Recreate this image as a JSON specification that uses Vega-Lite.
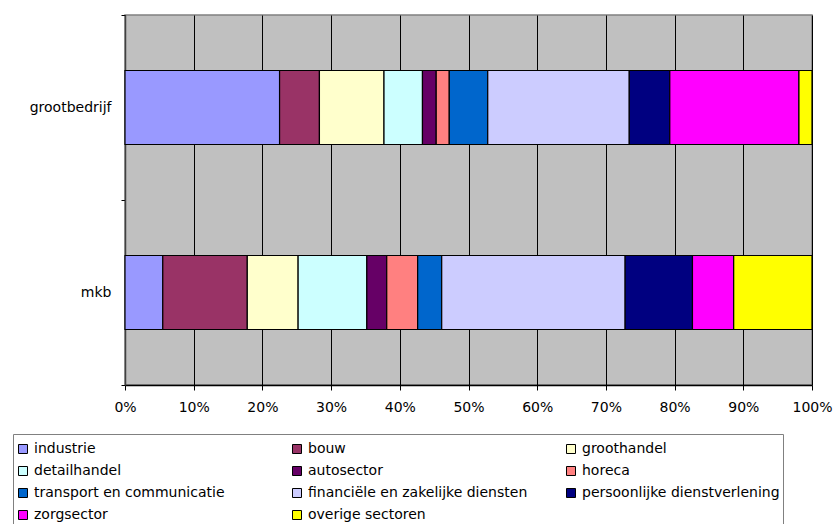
{
  "$schema": "https://vega.github.io/schema/vega-lite/v6.json",
  "width": 687,
  "height": 370,
  "padding": {"left": 12, "top": 8, "right": 0, "bottom": 0},
  "background": "white",
  "config": {
    "font": "DejaVu Sans",
    "view": {"fill": "#C0C0C0", "stroke": "#808080", "strokeWidth": 1.5}
  },
  "data": {
    "values": [
      {"bedrijf": "grootbedrijf", "sector": "industrie", "volgorde": 1, "aandeel": 22.5},
      {"bedrijf": "grootbedrijf", "sector": "bouw", "volgorde": 2, "aandeel": 5.8},
      {"bedrijf": "grootbedrijf", "sector": "groothandel", "volgorde": 3, "aandeel": 9.4},
      {"bedrijf": "grootbedrijf", "sector": "detailhandel", "volgorde": 4, "aandeel": 5.6},
      {"bedrijf": "grootbedrijf", "sector": "autosector", "volgorde": 5, "aandeel": 2.0},
      {"bedrijf": "grootbedrijf", "sector": "horeca", "volgorde": 6, "aandeel": 1.9},
      {"bedrijf": "grootbedrijf", "sector": "transport en communicatie", "volgorde": 7, "aandeel": 5.6},
      {"bedrijf": "grootbedrijf", "sector": "financiële en zakelijke diensten", "volgorde": 8, "aandeel": 20.6},
      {"bedrijf": "grootbedrijf", "sector": "persoonlijke dienstverlening", "volgorde": 9, "aandeel": 5.9},
      {"bedrijf": "grootbedrijf", "sector": "zorgsector", "volgorde": 10, "aandeel": 18.8},
      {"bedrijf": "grootbedrijf", "sector": "overige sectoren", "volgorde": 11, "aandeel": 1.9},
      {"bedrijf": "mkb", "sector": "industrie", "volgorde": 1, "aandeel": 5.5},
      {"bedrijf": "mkb", "sector": "bouw", "volgorde": 2, "aandeel": 12.3},
      {"bedrijf": "mkb", "sector": "groothandel", "volgorde": 3, "aandeel": 7.4},
      {"bedrijf": "mkb", "sector": "detailhandel", "volgorde": 4, "aandeel": 10.0},
      {"bedrijf": "mkb", "sector": "autosector", "volgorde": 5, "aandeel": 2.9},
      {"bedrijf": "mkb", "sector": "horeca", "volgorde": 6, "aandeel": 4.5},
      {"bedrijf": "mkb", "sector": "transport en communicatie", "volgorde": 7, "aandeel": 3.5},
      {"bedrijf": "mkb", "sector": "financiële en zakelijke diensten", "volgorde": 8, "aandeel": 26.7},
      {"bedrijf": "mkb", "sector": "persoonlijke dienstverlening", "volgorde": 9, "aandeel": 9.8},
      {"bedrijf": "mkb", "sector": "zorgsector", "volgorde": 10, "aandeel": 6.0},
      {"bedrijf": "mkb", "sector": "overige sectoren", "volgorde": 11, "aandeel": 11.4}
    ]
  },
  "mark": {"type": "bar", "stroke": "black", "strokeWidth": 1.2, "height": {"band": 0.4}},
  "encoding": {
    "y": {
      "field": "bedrijf",
      "type": "nominal",
      "sort": ["grootbedrijf", "mkb"],
      "scale": {"paddingInner": 0, "paddingOuter": 0},
      "axis": {
        "title": null,
        "tickBand": "extent",
        "domainColor": "#404040",
        "domainWidth": 1.5,
        "tickColor": "black",
        "tickSize": 4,
        "labelFontSize": 14,
        "labelColor": "black",
        "labelPadding": 10
      }
    },
    "x": {
      "field": "aandeel",
      "type": "quantitative",
      "stack": "normalize",
      "scale": {"domain": [0, 1], "nice": false},
      "axis": {
        "title": null,
        "values": [0, 0.1, 0.2, 0.3, 0.4, 0.5, 0.6, 0.7, 0.8, 0.9, 1],
        "format": ".0%",
        "labelFlush": false,
        "labelOverlap": false,
        "grid": true,
        "gridColor": "black",
        "gridOpacity": 1,
        "gridWidth": 1,
        "domainColor": "black",
        "domainWidth": 1.5,
        "tickColor": "black",
        "tickSize": 5,
        "labelFontSize": 14,
        "labelColor": "black",
        "labelPadding": 10
      }
    },
    "color": {
      "field": "sector",
      "type": "nominal",
      "scale": {
        "domain": ["industrie", "bouw", "groothandel", "detailhandel", "autosector", "horeca", "transport en communicatie", "financiële en zakelijke diensten", "persoonlijke dienstverlening", "zorgsector", "overige sectoren"],
        "range": ["#9999FF", "#993366", "#FFFFCC", "#CCFFFF", "#660066", "#FF8080", "#0066CC", "#CCCCFF", "#000080", "#FF00FF", "#FFFF00"]
      },
      "legend": {
        "title": " ",
        "titleFontSize": 2,
        "titlePadding": 3,
        "orient": "none",
        "direction": "horizontal",
        "legendX": -112,
        "legendY": 419,
        "columns": 3,
        "gridAlign": "all",
        "columnPadding": 36,
        "rowPadding": 8,
        "padding": 3,
        "fillColor": "white",
        "strokeColor": "#808080",
        "symbolType": "square",
        "symbolSize": 81,
        "symbolStrokeColor": "black",
        "symbolStrokeWidth": 1,
        "labelFontSize": 14,
        "labelColor": "black",
        "labelOffset": 4,
        "labelLimit": 400
      }
    },
    "order": {"field": "volgorde", "type": "quantitative"}
  }
}
